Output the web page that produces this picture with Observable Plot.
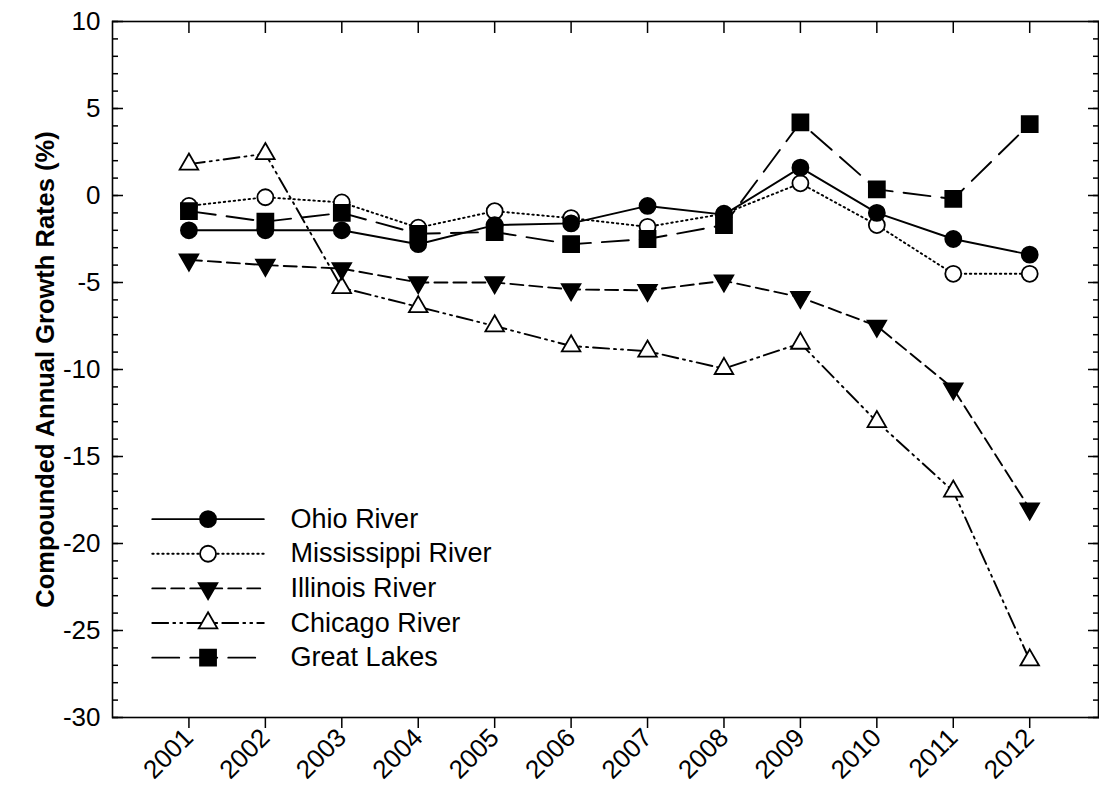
<!DOCTYPE html>
<html>
<head>
<meta charset="utf-8">
<script src="https://cdn.jsdelivr.net/npm/d3@7"></script>
<script src="https://cdn.jsdelivr.net/npm/@observablehq/plot@0.6"></script>
<style>
  html, body { margin: 0; padding: 0; background: #fff; }
  #chart svg { display: block; }
</style>
</head>
<body>
<div id="chart"></div>
<script>
// Compounded annual growth rates (%) by waterway, 2001–2012
const years = [2001, 2002, 2003, 2004, 2005, 2006, 2007, 2008, 2009, 2010, 2011, 2012];
const ohioRiver        = [-2.0, -2.0, -2.0, -2.8, -1.7, -1.6, -0.6, -1.1,  1.6, -1.0,  -2.5,  -3.4];
const mississippiRiver = [-0.6, -0.1, -0.4, -1.85, -0.9, -1.3, -1.8, -1.05, 0.7, -1.7,  -4.5,  -4.5];
const illinoisRiver    = [-3.7, -4.0, -4.2, -5.0, -5.0, -5.4, -5.45, -4.9, -5.85, -7.5, -11.1, -18.0];
const chicagoRiver     = [ 1.8,  2.4, -5.3, -6.4, -7.5, -8.65, -8.95, -9.95, -8.5, -13.0, -17.0, -26.7];
const greatLakes       = [-0.9, -1.5, -1.0, -2.2, -2.1, -2.8, -2.5, -1.7,  4.2,  0.35, -0.2,   4.1];

const seriesNames = ["Ohio River", "Mississippi River", "Illinois River", "Chicago River", "Great Lakes"];
const seriesValues = [ohioRiver, mississippiRiver, illinoisRiver, chicagoRiver, greatLakes];
const yMajorTicks = [-30, -25, -20, -15, -10, -5, 0, 5, 10];
const yMinorTicks = d3.range(-30, 11, 1);
const yTitle = "Compounded Annual Growth Rates (%)";

// line pattern and marker for each series
const look = {
  "Ohio River":        {dash: null,                 symbol: "circle",   fill: "black", r: 8,   rotate: 0},
  "Mississippi River": {dash: "1.5,3.5",            symbol: "circle",   fill: "white", r: 8,   rotate: 0},
  "Illinois River":    {dash: "13,6",               symbol: "triangle", fill: "black", r: 6.9, rotate: 180},
  "Chicago River":     {dash: "16,5,2,5,2,5",       symbol: "triangle", fill: "white", r: 6.9, rotate: 0},
  "Great Lakes":       {dash: "27,11",              symbol: "square",   fill: "black", r: 9,   rotate: 0}
};

const rows = seriesNames.flatMap((name, i) =>
  years.map((year, j) => ({series: name, year, value: seriesValues[i][j]})));

// legend rows, laid out in data units inside the lower-left of the frame
const legendTop = -18.6, legendStep = 1.99;
const legendRows = seriesNames.map((name, i) => ({series: name, y: legendTop - i * legendStep}));
const legendX0 = 2000.52, legendX1 = 2001.98, legendXm = 2001.25, legendXt = 2002.33;

const drawOrder = ["Chicago River", "Illinois River", "Mississippi River", "Ohio River", "Great Lakes"];

const marks = [];
for (const name of drawOrder) {
  const s = look[name];
  const data = rows.filter(d => d.series === name);
  marks.push(Plot.line(data, {x: "year", y: "value", stroke: "black", strokeWidth: 1.9,
    strokeDasharray: s.dash}));
}
for (const name of drawOrder) {
  const s = look[name];
  const data = rows.filter(d => d.series === name);
  marks.push(Plot.dot(data, {x: "year", y: "value", symbol: s.symbol, r: s.r, rotate: s.rotate,
    fill: s.fill, stroke: "black", strokeWidth: 1.8}));
}
// legend
for (const row of legendRows) {
  const s = look[row.series];
  marks.push(Plot.line([{x: legendX0, y: row.y}, {x: legendX1, y: row.y}],
    {x: "x", y: "y", stroke: "black", strokeWidth: 1.8, strokeDasharray: s.dash}));
  marks.push(Plot.dot([row], {x: () => legendXm, y: "y", symbol: s.symbol, r: s.r, rotate: s.rotate,
    fill: s.fill, stroke: "black", strokeWidth: 1.8}));
}
marks.push(Plot.text(legendRows, {x: () => legendXt, y: "y", text: "series", textAnchor: "start",
  fontSize: 27, fill: "black"}));

const chart = Plot.plot({
  width: 1099,
  height: 797,
  marginLeft: 112,
  marginRight: 1,
  marginTop: 21,
  marginBottom: 80,
  style: {fontFamily: "'Liberation Sans', Arial, sans-serif", fontSize: "26px", color: "black", background: "white"},
  x: {type: "linear", domain: [2000, 2012.9]},
  y: {domain: [-30, 10]},
  marks: [
    Plot.frame({stroke: "black", strokeWidth: 1.6}),
    // inward ticks on left and right, major and minor
    Plot.axisY(yMinorTicks, {anchor: "left", tickSize: -6, tickFormat: () => "", label: null, strokeWidth: 1.5}),
    Plot.axisY(yMajorTicks, {anchor: "left", tickSize: -11, tickFormat: () => "", label: null, strokeWidth: 1.5}),
    Plot.axisY(yMinorTicks, {anchor: "right", tickSize: -6, tickFormat: () => "", label: null, strokeWidth: 1.5}),
    Plot.axisY(yMajorTicks, {anchor: "right", tickSize: -11, tickFormat: () => "", label: null, strokeWidth: 1.5}),
    Plot.axisY(yMajorTicks, {anchor: "left", tickSize: 0, tickPadding: 12, label: null, fontSize: 26,
      tickFormat: d => String(d)}),
    Plot.axisX(years, {anchor: "top", tickSize: -11, tickFormat: () => "", label: null, strokeWidth: 1.5}),
    Plot.axisX(years, {anchor: "bottom", tickSize: 11, tickPadding: 5, tickRotate: -45, label: null,
      fontSize: 26, strokeWidth: 1.5, tickFormat: d => String(d)}),
    Plot.text([yTitle], {frameAnchor: "left", dx: -67, rotate: -90, text: d => d, textAnchor: "middle",
      fontSize: 25.5, fontWeight: "bold", fill: "black"}),
    ...marks
  ]
});
document.getElementById("chart").append(chart);
</script>
</body>
</html>
